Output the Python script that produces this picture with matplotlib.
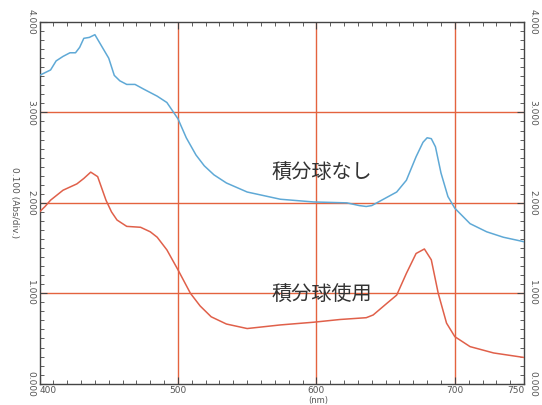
import matplotlib
matplotlib.use("Agg")
import matplotlib.pyplot as plt
from matplotlib.ticker import MultipleLocator, FixedLocator

plt.rcParams['font.family'] = ['Noto Sans CJK JP', 'DejaVu Sans']

# Wavelength (nm) and absorbance readings
blue_x = [400, 404, 408, 412, 417, 422, 426, 429, 432, 436, 440, 445, 450, 454, 458,
          463, 469, 475, 485, 492, 500, 506, 513, 519, 526, 535, 550, 574, 598, 622,
          631, 636, 640, 646, 658, 665, 672, 677, 680, 683, 686, 690, 695, 700, 711,
          723, 735, 750]
blue_y = [3.41, 3.44, 3.47, 3.57, 3.62, 3.66, 3.66, 3.72, 3.82, 3.83, 3.86, 3.73, 3.60,
          3.41, 3.35, 3.31, 3.31, 3.26, 3.18, 3.11, 2.93, 2.72, 2.53, 2.41, 2.31, 2.22,
          2.12, 2.04, 2.01, 2.00, 1.97, 1.96, 1.97, 2.02, 2.12, 2.25, 2.51, 2.67, 2.72,
          2.71, 2.62, 2.33, 2.07, 1.94, 1.77, 1.68, 1.62, 1.57]

red_x = [400, 404, 408, 417, 427, 432, 437, 442, 448, 452, 456, 463, 473, 480, 485, 492,
         500, 509, 516, 524, 535, 550, 574, 598, 617, 636, 641, 651, 658, 665, 672, 678,
         683, 688, 694, 700, 711, 728, 750]
red_y = [1.90, 1.96, 2.03, 2.14, 2.21, 2.27, 2.34, 2.29, 2.03, 1.90, 1.81, 1.74, 1.73,
         1.68, 1.62, 1.48, 1.26, 1.00, 0.86, 0.74, 0.66, 0.61, 0.65, 0.68, 0.71, 0.73,
         0.76, 0.89, 0.98, 1.22, 1.44, 1.49, 1.37, 1.00, 0.67, 0.52, 0.41, 0.34, 0.29]

x_ticks = [400, 500, 600, 700, 750]
x_ticklabels = ["400", "500", "600", "700", "750"]
y_ticks = [0, 1, 2, 3, 4]
y_ticklabels = ["0.000", "1.000", "2.000", "3.000", "4.000"]
grid_x = [500, 600, 700]
grid_y = [1, 2, 3]
label_top = "積分球なし"
label_bottom = "積分球使用"

fig = plt.figure(figsize=(5.42, 4.05), dpi=100)
ax = fig.add_axes([0.0729, 0.0526, 0.894, 0.893])
ax.set_xlim(400, 750)
ax.set_ylim(0, 4)

grid_color = "#e4633f"
for gx in grid_x:
    ax.axvline(gx, color=grid_color, lw=1.0, zorder=1)
for gy in grid_y:
    ax.axhline(gy, color=grid_color, lw=1.0, zorder=1)

ax.plot(blue_x, blue_y, color="#5fa9d6", lw=1.1, zorder=3)
ax.plot(red_x, red_y, color="#e0604a", lw=1.1, zorder=3)

ax.text(604, 2.33, label_top, fontsize=14.5, color="#333333", ha="center", va="center", zorder=4)
ax.text(604, 0.98, label_bottom, fontsize=14.5, color="#333333", ha="center", va="center", zorder=4)

for s in ax.spines.values():
    s.set_color("#444444")
    s.set_linewidth(1.0)

ax.xaxis.set_major_locator(FixedLocator(x_ticks))
ax.set_xticklabels(x_ticklabels, fontsize=6.5, color="#555555", family="DejaVu Sans")
ax.xaxis.set_minor_locator(MultipleLocator(10))
ax.yaxis.set_major_locator(FixedLocator(y_ticks))
ax.set_yticklabels(y_ticklabels, fontsize=6.5, color="#555555", rotation=-90,
                   va="center", family="DejaVu Sans")
ax.yaxis.set_minor_locator(MultipleLocator(0.1))
ax.tick_params(axis="both", which="both", direction="in", top=True, right=True,
               labelright=True, color="#444444")
ax.tick_params(which="major", length=5, width=0.8)
ax.tick_params(which="minor", length=3, width=0.6)
ax.tick_params(axis="y", which="major", pad=3)
ax.tick_params(axis="x", which="major", pad=2)
for t in ax.yaxis.get_major_ticks():
    t.label1.set_rotation(-90)
    t.label2.set_rotation(-90)
    t.label2.set_fontsize(6.5)
    t.label2.set_color("#555555")
    t.label2.set_family("DejaVu Sans")
    t.label1.set_va("center")
    t.label2.set_va("center")

xt = ax.get_xticklabels()
xt[0].set_ha("left")
xt[-1].set_ha("right")

fig.text(0.026, 0.5, "0.100 (Abs/div.)", rotation=-90, fontsize=6.5, color="#555555",
         ha="center", va="center", family="DejaVu Sans")
fig.text(0.587, 0.001, "(nm)", fontsize=6.0, color="#555555", ha="center", va="bottom",
         family="DejaVu Sans")

fig.savefig("out.png", dpi=100, facecolor="white")
